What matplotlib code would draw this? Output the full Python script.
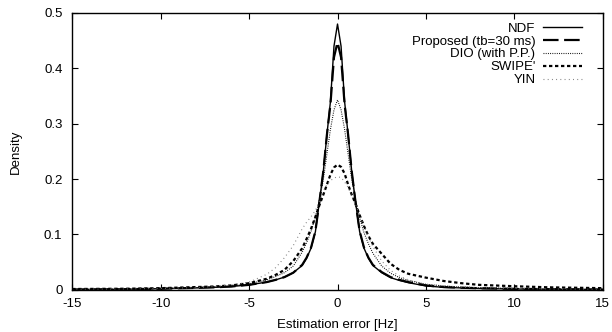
import matplotlib
matplotlib.use('Agg')
import matplotlib.pyplot as plt

plt.rcParams['font.family'] = ['Liberation Sans', 'DejaVu Sans']
plt.rcParams['axes.unicode_minus'] = False

# estimation error grid [Hz]
err = [-15, -12, -10, -8, -7, -6, -5, -4, -3.5, -3, -2.5, -2, -1.75, -1.5, -1.25, -1,
       -0.8, -0.6, -0.4, -0.2, 0, 0.2, 0.4, 0.6, 0.8, 1, 1.25, 1.5, 1.75, 2,
       2.5, 3, 3.5, 4, 5, 6, 7, 8, 10, 12, 15]

# densities
ndf = [0.0005, 0.001, 0.002, 0.0035, 0.0045, 0.006, 0.009, 0.014, 0.018, 0.023, 0.031, 0.044, 0.057, 0.075, 0.105, 0.165,
       0.215, 0.28, 0.34, 0.44, 0.48, 0.44, 0.34, 0.28, 0.215, 0.163, 0.105, 0.075, 0.057, 0.044,
       0.031, 0.022, 0.017, 0.013, 0.007, 0.0045, 0.0035, 0.0025, 0.0015, 0.001, 0.0005]
proposed = [0.0006, 0.0012, 0.002, 0.0035, 0.0045, 0.006, 0.009, 0.014, 0.018, 0.023, 0.031, 0.045, 0.058, 0.076, 0.106, 0.165,
            0.215, 0.28, 0.335, 0.42, 0.447, 0.42, 0.335, 0.28, 0.215, 0.163, 0.106, 0.076, 0.058, 0.045,
            0.032, 0.023, 0.018, 0.014, 0.008, 0.005, 0.0038, 0.0028, 0.0018, 0.0012, 0.0006]
dio = [0.001, 0.0015, 0.0025, 0.004, 0.005, 0.007, 0.011, 0.018, 0.024, 0.031, 0.043, 0.068, 0.085, 0.105, 0.132, 0.165,
       0.2, 0.245, 0.29, 0.325, 0.343, 0.325, 0.29, 0.245, 0.2, 0.165, 0.13, 0.103, 0.083, 0.066,
       0.043, 0.03, 0.022, 0.017, 0.01, 0.007, 0.005, 0.004, 0.0025, 0.0015, 0.001]
swipe = [0.0015, 0.002, 0.003, 0.005, 0.006, 0.008, 0.012, 0.02, 0.027, 0.036, 0.052, 0.075, 0.092, 0.11, 0.132, 0.155,
         0.172, 0.19, 0.208, 0.221, 0.226, 0.222, 0.21, 0.19, 0.172, 0.157, 0.135, 0.115, 0.097, 0.083,
         0.065, 0.047, 0.036, 0.029, 0.022, 0.016, 0.012, 0.009, 0.0065, 0.0045, 0.003]
yin = [0.001, 0.0015, 0.0025, 0.004, 0.006, 0.009, 0.014, 0.028, 0.04, 0.058, 0.08, 0.11, 0.122, 0.132, 0.143, 0.162,
       0.178, 0.19, 0.197, 0.202, 0.204, 0.203, 0.195, 0.185, 0.17, 0.155, 0.135, 0.115, 0.095, 0.078,
       0.052, 0.035, 0.025, 0.018, 0.01, 0.007, 0.005, 0.004, 0.0025, 0.0015, 0.001]

fig = plt.figure(figsize=(6.12, 3.32), dpi=100)
ax = fig.add_axes([0.118, 0.127, 0.867, 0.834])

ax.plot(err, ndf, color='black', lw=1.0, label='NDF')
ax.plot(err, proposed, color='black', lw=1.6, dashes=(7, 2.5), label='Proposed (tb=30 ms)')
ax.plot(err, dio, color='black', lw=0.8, dashes=(0.8, 1.2), label='DIO (with P.P.)')
ax.plot(err, swipe, color='black', lw=1.6, dashes=(1.5, 1.2), label="SWIPE'")
ax.plot(err, yin, color='#777777', lw=0.8, dashes=(0.8, 3.0), label='YIN')

ax.set_xlim(-15, 15)
ax.set_ylim(0, 0.5)
ax.set_xticks([-15, -10, -5, 0, 5, 10, 15])
ax.set_yticks([0, 0.1, 0.2, 0.3, 0.4, 0.5])
ax.set_yticklabels(['0', '0.1', '0.2', '0.3', '0.4', '0.5'])
ax.tick_params(direction='in', length=4, width=0.8, top=True, right=True, labelsize=9.5)
ax.tick_params(axis='x', pad=6)
ax.tick_params(axis='y', pad=7)
for s in ax.spines.values():
    s.set_linewidth(1.0)

ax.set_xlabel('Estimation error [Hz]', fontsize=9.5, labelpad=6)
ax.set_ylabel('Density', fontsize=9.5, labelpad=16)

leg = ax.legend(loc='upper right', bbox_to_anchor=(0.97, 0.985), markerfirst=False, frameon=False,
                fontsize=9.5, handlelength=2.9, labelspacing=0.05, borderaxespad=0.0, handletextpad=0.6)

fig.savefig('out.png')
